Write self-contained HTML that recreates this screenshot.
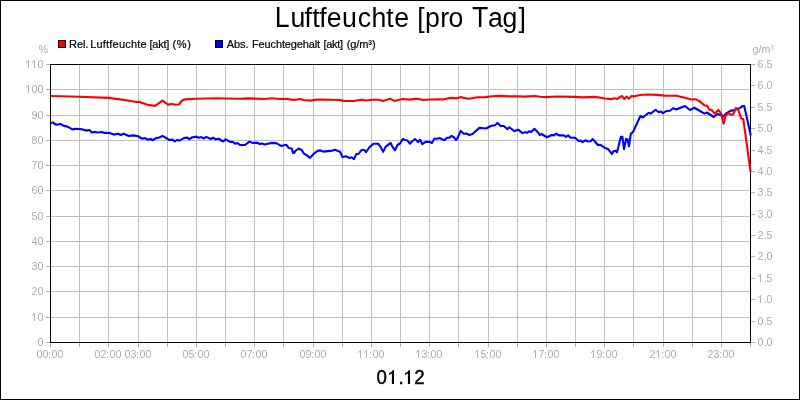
<!DOCTYPE html>
<html><head><meta charset="utf-8"><title>Luftfeuchte [pro Tag]</title>
<style>
html,body{margin:0;padding:0;background:#fff;}
body{width:800px;height:400px;overflow:hidden;font-family:"Liberation Sans",sans-serif;}
svg{display:block;font-family:"Liberation Sans",sans-serif;will-change:transform;transform:translateZ(0);-webkit-font-smoothing:antialiased;}
.lbl text{font-size:10.67px;fill:#acacac;}
.leg text{font-size:11px;fill:#000;stroke:#000;stroke-width:0.2px;}
</style></head><body>
<svg width="800" height="400" viewBox="0 0 800 400">
<rect x="0" y="0" width="800" height="400" fill="#fff"/>
<g fill="#000" shape-rendering="crispEdges">
<rect x="0" y="0" width="800" height="1"/><rect x="0" y="399" width="800" height="1"/>
<rect x="0" y="0" width="1" height="400"/><rect x="799" y="0" width="1" height="400"/>
</g>
<g font-size="26.67" fill="#000"><text transform="translate(274.79,27) scale(1,1.08)">L</text><text transform="translate(290.57,27) scale(1,1.04)">u</text><text transform="translate(304.38,27) scale(1,1.04)">f</text><text transform="translate(312.20,27) scale(1,1.04)">t</text><text transform="translate(319.23,27) scale(1,1.04)">f</text><text transform="translate(326.82,27) scale(1,1.04)">e</text><text transform="translate(342.02,27) scale(1,1.04)">u</text><text transform="translate(357.82,27) scale(1,1.04)">c</text><text transform="translate(371.45,27) scale(1,1.04)">h</text><text transform="translate(386.20,27) scale(1,1.04)">t</text><text transform="translate(394.22,27) scale(1,1.04)">e</text><text transform="translate(417.16,27) scale(1,1.04)">[</text><text transform="translate(425.10,27) scale(1,1.04)">p</text><text transform="translate(440.25,27) scale(1,1.04)">r</text><text transform="translate(448.54,27) scale(1,1.04)">o</text><text transform="translate(471.91,27) scale(1,1.08)">T</text><text transform="translate(488.10,27) scale(1,1.04)">a</text><text transform="translate(502.60,27) scale(1,1.04)">g</text><text transform="translate(518.44,27) scale(1,1.04)">]</text></g>
<g font-size="18.67" fill="#000" stroke="#000" stroke-width="0.4"><text transform="translate(376.5,384.1) scale(1,1.05)">0</text><text x="398.6" y="384">.</text><text transform="translate(414.3,384.1) scale(1,1.05)">2</text></g><path fill="#000" d="M391.90,384 L394.00,384 L394.00,370 L393.05,370 Q391.60,372.30 389.00,373.25 L389.00,374.95 Q390.70,374.30 391.90,373.30 Z M407.90,384 L410.00,384 L410.00,370 L409.05,370 Q407.60,372.30 405.00,373.25 L405.00,374.95 Q406.70,374.30 407.90,373.30 Z"/>
<g fill="#bfbfbf" shape-rendering="crispEdges">
<rect x="79" y="64" width="1" height="278"/>
<rect x="108" y="64" width="1" height="278"/>
<rect x="138" y="64" width="1" height="278"/>
<rect x="167" y="64" width="1" height="278"/>
<rect x="196" y="64" width="1" height="278"/>
<rect x="225" y="64" width="1" height="278"/>
<rect x="254" y="64" width="1" height="278"/>
<rect x="283" y="64" width="1" height="278"/>
<rect x="313" y="64" width="1" height="278"/>
<rect x="342" y="64" width="1" height="278"/>
<rect x="371" y="64" width="1" height="278"/>
<rect x="400" y="64" width="1" height="278"/>
<rect x="429" y="64" width="1" height="278"/>
<rect x="458" y="64" width="1" height="278"/>
<rect x="488" y="64" width="1" height="278"/>
<rect x="517" y="64" width="1" height="278"/>
<rect x="546" y="64" width="1" height="278"/>
<rect x="575" y="64" width="1" height="278"/>
<rect x="604" y="64" width="1" height="278"/>
<rect x="633" y="64" width="1" height="278"/>
<rect x="663" y="64" width="1" height="278"/>
<rect x="692" y="64" width="1" height="278"/>
<rect x="721" y="64" width="1" height="278"/>
<rect x="50" y="317" width="700" height="1"/>
<rect x="50" y="291" width="700" height="1"/>
<rect x="50" y="266" width="700" height="1"/>
<rect x="50" y="241" width="700" height="1"/>
<rect x="50" y="216" width="700" height="1"/>
<rect x="50" y="190" width="700" height="1"/>
<rect x="50" y="165" width="700" height="1"/>
<rect x="50" y="140" width="700" height="1"/>
<rect x="50" y="115" width="700" height="1"/>
<rect x="50" y="89" width="700" height="1"/>
</g>
<g fill="#b0b0b0" shape-rendering="crispEdges">
<rect x="46" y="342" width="4" height="1"/>
<rect x="46" y="317" width="4" height="1"/>
<rect x="46" y="291" width="4" height="1"/>
<rect x="46" y="266" width="4" height="1"/>
<rect x="46" y="241" width="4" height="1"/>
<rect x="46" y="216" width="4" height="1"/>
<rect x="46" y="190" width="4" height="1"/>
<rect x="46" y="165" width="4" height="1"/>
<rect x="46" y="140" width="4" height="1"/>
<rect x="46" y="115" width="4" height="1"/>
<rect x="46" y="89" width="4" height="1"/>
<rect x="46" y="64" width="4" height="1"/>
<rect x="751" y="342" width="4" height="1"/>
<rect x="751" y="321" width="4" height="1"/>
<rect x="751" y="299" width="4" height="1"/>
<rect x="751" y="278" width="4" height="1"/>
<rect x="751" y="256" width="4" height="1"/>
<rect x="751" y="235" width="4" height="1"/>
<rect x="751" y="214" width="4" height="1"/>
<rect x="751" y="192" width="4" height="1"/>
<rect x="751" y="171" width="4" height="1"/>
<rect x="751" y="150" width="4" height="1"/>
<rect x="751" y="128" width="4" height="1"/>
<rect x="751" y="107" width="4" height="1"/>
<rect x="751" y="85" width="4" height="1"/>
<rect x="751" y="64" width="4" height="1"/>
<rect x="50" y="343" width="1" height="4"/>
<rect x="79" y="343" width="1" height="4"/>
<rect x="108" y="343" width="1" height="4"/>
<rect x="138" y="343" width="1" height="4"/>
<rect x="167" y="343" width="1" height="4"/>
<rect x="196" y="343" width="1" height="4"/>
<rect x="225" y="343" width="1" height="4"/>
<rect x="254" y="343" width="1" height="4"/>
<rect x="283" y="343" width="1" height="4"/>
<rect x="313" y="343" width="1" height="4"/>
<rect x="342" y="343" width="1" height="4"/>
<rect x="371" y="343" width="1" height="4"/>
<rect x="400" y="343" width="1" height="4"/>
<rect x="429" y="343" width="1" height="4"/>
<rect x="458" y="343" width="1" height="4"/>
<rect x="488" y="343" width="1" height="4"/>
<rect x="517" y="343" width="1" height="4"/>
<rect x="546" y="343" width="1" height="4"/>
<rect x="575" y="343" width="1" height="4"/>
<rect x="604" y="343" width="1" height="4"/>
<rect x="633" y="343" width="1" height="4"/>
<rect x="663" y="343" width="1" height="4"/>
<rect x="692" y="343" width="1" height="4"/>
<rect x="721" y="343" width="1" height="4"/>
<rect x="750" y="343" width="1" height="4"/>
</g>
<g class="lbl">
<text x="48" y="53" text-anchor="end">%</text>
<text x="752.6" y="53">g/m³</text>
<text x="37.5" y="345.5">0</text>
<text x="37.5" y="320.5">0</text>
<text x="31.5 37.5" y="294.5">20</text>
<text x="31.5 37.5" y="269.5">30</text>
<text x="31.5 37.5" y="244.5">40</text>
<text x="31.5 37.5" y="219.5">50</text>
<text x="31.5 37.5" y="193.5">60</text>
<text x="31.5 37.5" y="168.5">70</text>
<text x="31.5 37.5" y="143.5">80</text>
<text x="31.5 37.5" y="118.5">90</text>
<text x="31.5 37.5" y="92.5">00</text>
<text x="37.5" y="67.5">0</text>
<text x="757.5 764 766.5" y="345.5">0.0</text>
<text x="757.5 764 766.5" y="324.5">0.5</text>
<text x="764 766.5" y="302.5">.0</text>
<text x="764 766.5" y="281.5">.5</text>
<text x="757.5 764 766.5" y="259.5">2.0</text>
<text x="757.5 764 766.5" y="238.5">2.5</text>
<text x="757.5 764 766.5" y="217.5">3.0</text>
<text x="757.5 764 766.5" y="195.5">3.5</text>
<text x="757.5 764 766.5" y="174.5">4.0</text>
<text x="757.5 764 766.5" y="153.5">4.5</text>
<text x="757.5 764 766.5" y="131.5">5.0</text>
<text x="757.5 764 766.5" y="110.5">5.5</text>
<text x="757.5 764 766.5" y="88.5">6.0</text>
<text x="757.5 764 766.5" y="67.5">6.5</text>
<text x="36.5 42.5 48 51.5 57.5" y="357.5">00:00</text>
<text x="94.5 100.5 106 109.5 115.5" y="357.5">02:00</text>
<text x="124.5 130.5 136 139.5 145.5" y="357.5">03:00</text>
<text x="182.5 188.5 194 197.5 203.5" y="357.5">05:00</text>
<text x="240.5 246.5 252 255.5 261.5" y="357.5">07:00</text>
<text x="299.5 305.5 311 314.5 320.5" y="357.5">09:00</text>
<text x="369 372.5 378.5" y="357.5">:00</text>
<text x="421.5 427 430.5 436.5" y="357.5">3:00</text>
<text x="480.5 486 489.5 495.5" y="357.5">5:00</text>
<text x="538.5 544 547.5 553.5" y="357.5">7:00</text>
<text x="596.5 602 605.5 611.5" y="357.5">9:00</text>
<text x="649.5 661 664.5 670.5" y="357.5">2:00</text>
<text x="707.5 713.5 719 722.5 728.5" y="357.5">23:00</text>
<path fill="#b2b2b2" d="M34,313h1v8h-1z M34.1,313.2l0,1.1l-1.8,1.7l-0.55,-0.7z M28,85h1v8h-1z M28.1,85.2l0,1.1l-1.8,1.7l-0.55,-0.7z M28,60h1v8h-1z M28.1,60.2l0,1.1l-1.8,1.7l-0.55,-0.7z M34,60h1v8h-1z M34.1,60.2l0,1.1l-1.8,1.7l-0.55,-0.7z M760,295h1v8h-1z M760.1,295.2l0,1.1l-1.8,1.7l-0.55,-0.7z M760,274h1v8h-1z M760.1,274.2l0,1.1l-1.8,1.7l-0.55,-0.7z M360,350h1v8h-1z M360.1,350.2l0,1.1l-1.8,1.7l-0.55,-0.7z M366,350h1v8h-1z M366.1,350.2l0,1.1l-1.8,1.7l-0.55,-0.7z M418,350h1v8h-1z M418.1,350.2l0,1.1l-1.8,1.7l-0.55,-0.7z M477,350h1v8h-1z M477.1,350.2l0,1.1l-1.8,1.7l-0.55,-0.7z M535,350h1v8h-1z M535.1,350.2l0,1.1l-1.8,1.7l-0.55,-0.7z M593,350h1v8h-1z M593.1,350.2l0,1.1l-1.8,1.7l-0.55,-0.7z M658,350h1v8h-1z M658.1,350.2l0,1.1l-1.8,1.7l-0.55,-0.7z"/>
</g>
<g class="leg">
<rect x="58.5" y="40.5" width="7" height="7" fill="#f00" stroke="#000" stroke-width="1"/>
<text x="69" y="48">Rel.</text><text x="90.2" y="48" letter-spacing="0.196">Luftfeuchte</text><text x="149.52" y="48" letter-spacing="-0.265">[akt]</text><text x="172.47" y="48" letter-spacing="0.672">(%)</text>
<rect x="215.5" y="40.5" width="7" height="7" fill="#00f" stroke="#000" stroke-width="1"/>
<text x="226.67" y="48">Abs.</text><text x="252" y="48" letter-spacing="-0.13">Feuchtegehalt</text><text x="323.52" y="48" letter-spacing="-0.287">[akt]</text><text x="346.67" y="48" letter-spacing="-0.074">(g/m³)</text>
</g>
<g fill="#000" shape-rendering="crispEdges">
<rect x="50" y="64" width="701" height="1"/><rect x="50" y="342" width="701" height="1"/>
<rect x="50" y="64" width="1" height="279"/><rect x="750" y="64" width="1" height="279"/>
</g>
<g fill="none" stroke-linejoin="round" stroke-linecap="butt" stroke-width="2.1">
<path stroke="#0000ff" d="M51.00,123.00 L52.75,122.50 L56.25,124.75 L60.60,124.00 L63.75,125.90 L67.50,126.60 L72.50,129.40 L76.25,128.75 L82.50,129.40 L86.25,130.60 L89.40,130.00 L91.90,132.50 L95.00,131.90 L97.50,132.50 L101.90,132.00 L104.40,132.90 L109.40,132.90 L113.75,134.60 L118.10,133.75 L120.60,135.00 L123.75,133.75 L128.75,136.00 L133.10,135.40 L138.10,136.25 L140.00,137.50 L142.50,138.75 L145.00,138.10 L148.10,139.75 L150.60,139.00 L152.50,140.25 L156.25,138.10 L159.40,137.50 L162.50,135.90 L169.40,140.00 L172.50,139.60 L174.75,141.50 L176.90,140.00 L179.40,140.60 L183.75,138.10 L186.90,137.50 L189.40,139.10 L191.90,137.50 L196.25,136.60 L198.75,137.75 L201.25,137.10 L203.75,138.50 L206.25,136.90 L210.60,139.00 L213.10,137.75 L215.60,139.40 L218.75,138.75 L223.10,141.50 L225.60,139.40 L230.00,141.90 L232.50,141.90 L235.60,143.75 L237.50,143.10 L240.00,145.00 L245.00,145.00 L249.40,141.60 L252.50,142.90 L257.50,142.75 L259.75,144.10 L261.90,143.40 L264.40,144.50 L271.25,142.90 L276.25,143.10 L281.25,145.90 L286.25,144.75 L288.75,147.90 L291.90,148.75 L293.10,153.10 L294.40,152.75 L295.00,151.25 L298.75,148.50 L301.90,150.25 L303.75,153.50 L306.90,155.40 L310.00,157.90 L313.75,153.75 L317.50,150.90 L320.60,150.40 L323.10,151.60 L332.50,150.60 L335.00,149.75 L340.00,151.80 L342.50,157.10 L346.25,156.25 L349.40,158.10 L351.50,157.25 L354.00,159.10 L356.25,154.10 L358.75,153.75 L361.50,150.00 L364.40,150.00 L366.00,152.25 L369.40,147.25 L373.50,143.75 L378.10,143.75 L380.60,146.90 L383.10,151.90 L385.60,146.90 L390.60,142.90 L392.50,146.90 L395.00,150.25 L397.50,145.00 L400.00,143.50 L402.75,139.00 L405.00,140.00 L407.50,140.60 L410.00,143.75 L411.90,141.50 L415.00,139.00 L418.10,142.10 L420.00,139.75 L422.25,144.10 L425.60,141.90 L430.00,141.90 L431.90,143.10 L434.40,138.75 L436.90,138.75 L440.00,138.00 L441.90,139.40 L444.75,140.00 L446.90,137.75 L449.40,137.75 L451.50,135.90 L454.40,137.75 L456.00,140.00 L457.75,137.75 L460.60,130.90 L463.75,133.75 L466.25,133.50 L469.40,135.00 L472.50,134.00 L479.40,127.90 L486.25,128.50 L490.60,126.00 L495.00,125.25 L497.50,122.90 L500.60,126.00 L503.75,126.00 L507.50,129.10 L509.40,127.25 L514.40,131.25 L518.10,129.60 L522.50,133.10 L525.00,132.10 L526.90,132.90 L529.40,131.25 L531.25,131.90 L534.40,128.75 L537.50,131.90 L540.00,135.00 L541.50,134.00 L546.90,137.25 L551.90,135.00 L553.75,135.40 L556.25,133.75 L558.75,135.40 L563.75,135.40 L566.00,136.90 L568.10,135.25 L570.60,137.75 L575.00,137.75 L578.75,141.00 L580.60,140.60 L582.50,142.10 L585.60,140.25 L588.10,141.50 L590.60,141.25 L592.50,139.10 L595.00,141.50 L597.75,145.00 L600.00,144.70 L605.00,147.90 L608.10,149.10 L612.00,154.00 L613.60,151.00 L615.60,150.80 L617.00,152.25 L618.10,148.10 L620.80,136.90 L622.40,136.90 L624.00,149.20 L626.10,138.90 L627.50,139.40 L629.00,146.40 L630.80,133.90 L633.00,132.00 L636.25,125.00 L640.40,116.00 L642.80,117.50 L648.75,112.75 L650.60,113.60 L655.60,109.75 L658.75,112.25 L660.60,111.50 L663.10,113.10 L666.25,111.00 L670.00,110.75 L673.10,108.25 L676.25,109.40 L685.00,106.00 L690.00,110.00 L694.40,107.75 L700.00,111.00 L704.50,113.60 L706.75,112.50 L713.90,117.00 L717.60,113.85 L723.25,116.50 L725.90,113.60 L730.75,110.60 L733.75,110.40 L740.10,107.85 L742.40,106.10 L744.25,106.10 L750.80,135.60"/>
<path stroke="#ff0000" d="M51.00,96.00 L79.40,96.75 L108.75,97.90 L120.00,99.40 L132.50,101.25 L136.25,102.00 L140.00,101.90 L140.00,102.25 L147.50,104.75 L152.50,105.60 L155.60,105.60 L162.50,100.60 L168.10,104.60 L171.90,104.00 L175.60,104.75 L179.00,104.50 L181.90,100.60 L185.00,99.40 L196.25,98.75 L217.50,98.25 L225.00,98.50 L240.00,98.75 L248.75,98.40 L265.00,99.00 L271.90,98.25 L280.00,99.00 L286.90,98.90 L293.75,100.00 L300.00,99.00 L303.75,100.00 L310.60,100.60 L317.50,99.50 L340.00,100.00 L343.75,101.00 L353.75,101.00 L361.25,99.75 L366.25,100.50 L372.50,99.75 L378.75,99.75 L383.10,100.90 L390.00,98.75 L394.40,100.90 L402.50,99.00 L410.00,99.60 L415.00,98.90 L419.40,99.00 L422.50,100.00 L430.00,99.50 L440.00,99.20 L442.50,99.60 L450.00,97.90 L456.25,98.40 L461.25,96.90 L463.10,97.90 L468.75,98.75 L477.50,97.25 L485.00,97.10 L492.50,96.25 L500.00,95.90 L508.75,96.40 L517.50,96.25 L525.00,96.60 L535.00,96.00 L540.00,96.80 L546.25,97.10 L556.25,96.50 L575.00,96.90 L582.50,97.40 L595.00,96.90 L605.00,98.50 L611.90,99.10 L614.40,98.25 L616.90,99.00 L621.90,96.00 L624.40,99.00 L626.50,96.60 L628.75,98.75 L631.90,95.90 L633.75,96.50 L640.00,95.00 L647.50,94.50 L656.25,94.90 L665.00,95.60 L676.25,95.75 L683.75,97.50 L692.50,99.75 L695.00,99.10 L698.75,100.60 L704.50,105.40 L707.10,105.75 L709.40,109.65 L711.60,109.90 L714.60,113.60 L718.40,109.90 L721.40,114.00 L723.60,123.80 L725.90,115.10 L728.50,113.25 L731.50,115.10 L733.40,114.00 L736.00,107.85 L738.60,110.60 L741.25,118.70 L743.30,119.00 L750.60,172.00"/>
</g>
</svg>
</body></html>
